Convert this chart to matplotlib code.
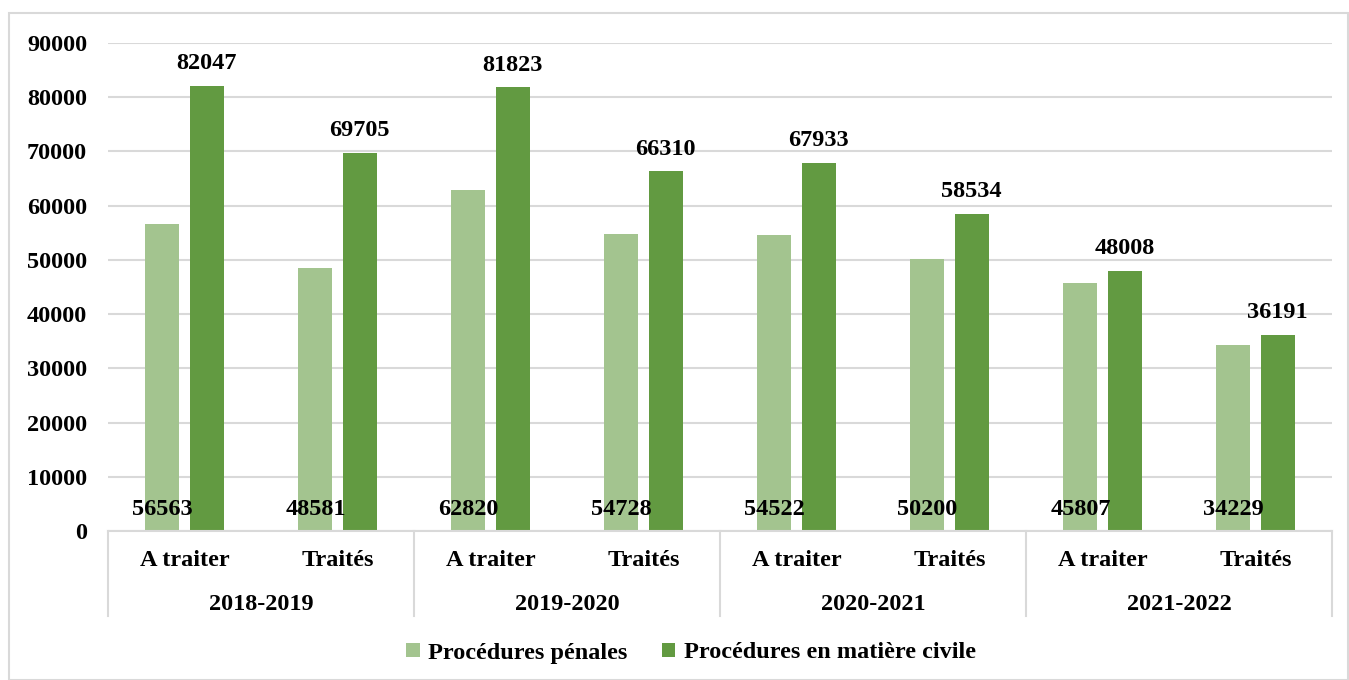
import matplotlib
matplotlib.use("Agg")
import matplotlib.pyplot as plt
from matplotlib.patches import Rectangle
import numpy as np

plt.rcParams['font.family'] = ['Liberation Serif', 'DejaVu Serif']
plt.rcParams['font.weight'] = 'bold'

years = ["2018-2019", "2019-2020", "2020-2021", "2021-2022"]
statuses = ["A traiter", "Traités"]
penales = [56563, 48581, 62820, 54728, 54522, 50200, 45807, 34229]
civiles = [82047, 69705, 81823, 66310, 67933, 58534, 48008, 36191]
series_names = ["Procédures pénales", "Procédures en matière civile"]
colors = ["#A3C48F", "#629A41"]
grid_color = "#D9D9D9"
fs = 17.5

fig = plt.figure(figsize=(13.49, 6.8), dpi=100)
fig.patches.append(Rectangle((9 / 1349, 0), 1 - 9 / 1349 - 0.0005, 1 - 13 / 680,
                             transform=fig.transFigure, fill=False,
                             edgecolor=grid_color, linewidth=1.5))

ax = fig.add_axes([108 / 1349, 149 / 680, 1224 / 1349, 488 / 680])

n = len(penales)
x = np.arange(n)
width = 0.222
off = 0.144
b1 = ax.bar(x - off, penales, width, color=colors[0], label=series_names[0], zorder=2)
b2 = ax.bar(x + off, civiles, width, color=colors[1], label=series_names[1], zorder=2)

ax.set_xlim(-0.5, n - 0.5)
ax.set_ylim(0, 90000)
ax.set_yticks(np.arange(0, 90001, 10000))
ax.set_yticklabels([str(v) for v in range(0, 90001, 10000)], fontsize=fs, fontweight='bold')
ax.tick_params(axis='y', length=0, pad=15)
ax.set_xticks([])
ax.grid(axis='y', color=grid_color, linewidth=1.5, zorder=0)
for s in ['left', 'right', 'top']:
    ax.spines[s].set_visible(False)
ax.spines['bottom'].set_color(grid_color)
ax.spines['bottom'].set_linewidth(1.5)

# value labels
for xi, v in zip(x, penales):
    ax.annotate(str(v), (xi - off, 0), xytext=(0, 11.5), textcoords='offset points',
                ha='center', va='baseline', fontsize=fs, fontweight='bold', zorder=3)
for xi, v in zip(x, civiles):
    ax.annotate(str(v), (xi + off, v), xytext=(0, 12), textcoords='offset points',
                ha='center', va='baseline', fontsize=fs, fontweight='bold', zorder=3)

# two-level category axis
xt = ax.get_xaxis_transform()
ax_h = 488.0
for i in range(n):
    ax.text(i, -(560 - 531) / ax_h, statuses[i % 2], transform=xt, ha='center',
            va='center', fontsize=fs, fontweight='bold')
for g, yr in enumerate(years):
    ax.text(2 * g + 0.5, -(604 - 531) / ax_h, yr, transform=xt, ha='center',
            va='center', fontsize=fs, fontweight='bold')
for g in range(len(years) + 1):
    ax.plot([2 * g - 0.5, 2 * g - 0.5], [0, -(616 - 531) / ax_h], transform=xt,
            color=grid_color, linewidth=1.5, clip_on=False)

leg = fig.legend(handles=[b1, b2], labels=series_names, loc='center',
                 bbox_to_anchor=(691 / 1349, 1 - 653 / 680), ncol=2, frameon=False,
                 prop={'size': fs, 'weight': 'bold'}, handlelength=0.55,
                 handleheight=0.55, handletextpad=0.35, columnspacing=1.4)

fig.savefig("out.png", dpi=100)
